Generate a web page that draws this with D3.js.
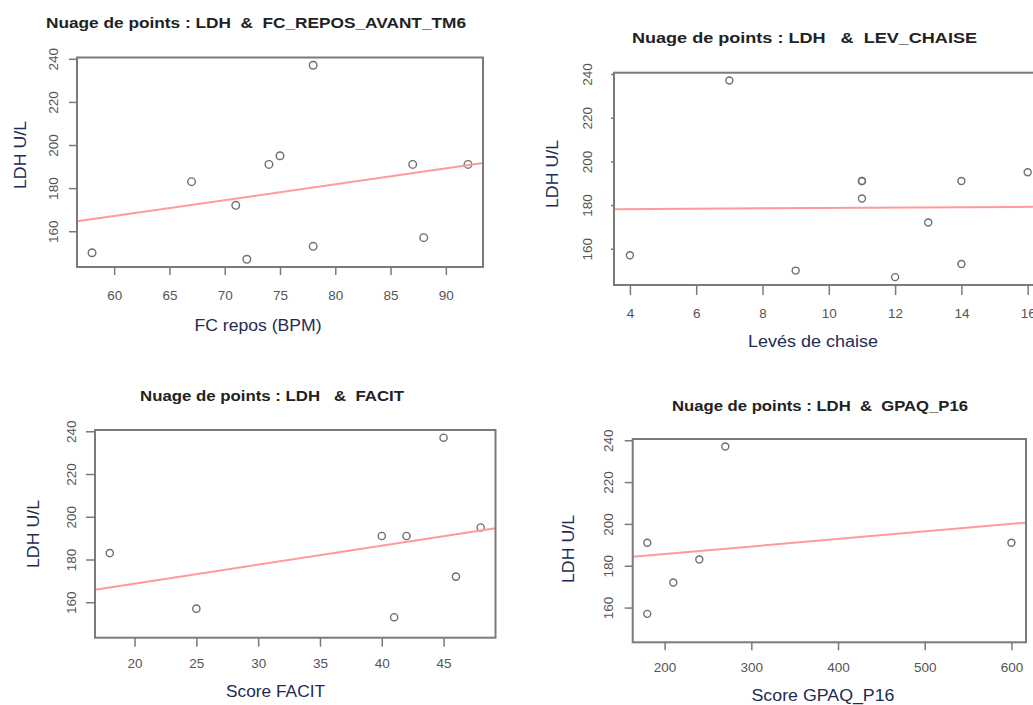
<!DOCTYPE html>
<html>
<head>
<meta charset="utf-8">
<script src="https://cdn.jsdelivr.net/npm/d3@7"></script>
<style>
  html, body { margin: 0; padding: 0; background: #fff; overflow: hidden; }
  svg { display: block; }
  text { white-space: pre; }
</style>
</head>
<body>
<svg id="chart" width="1033" height="705"></svg>
<script>
// ---------- DATA ----------
const ldhAll = [150, 183, 172, 147, 191, 195, 237, 153, 191, 157, 191];

const fcRepos   = [58, 67, 71, 72, 74, 75, 78, 78, 87, 88, 92];
const ldhFc     = [150, 183, 172, 147, 191, 195, 237, 153, 191, 157, 191];

const levChaise = [4, 7, 9, 11, 11, 11, 12, 13, 14, 14, 16];
const ldhLev    = [157, 237, 150, 191, 191, 183, 147, 172, 191, 153, 195];

const facit     = [18, 25, 40, 41, 42, 45, 46, 48];
const ldhFacit  = [183, 157, 191, 153, 191, 237, 172, 195];

const gpaq      = [180, 180, 210, 240, 270, 600];
const ldhGpaq   = [191, 157, 172, 183, 237, 191];

// regression lines: [intercept, slope]
const fitFc    = [122.9, 0.736];
const fitLev   = [177.8, 0.087];
const fitFacit = [150.9, 0.889];
const fitGpaq  = [178.4, 0.036];

// tick labels
const yTicks      = [160, 180, 200, 220, 240];
const xTicksFc    = [60, 65, 70, 75, 80, 85, 90];
const xTicksLev   = [4, 6, 8, 10, 12, 14, 16];
const xTicksFacit = [20, 25, 30, 35, 40, 45];
const xTicksGpaq  = [200, 300, 400, 500, 600];

// texts
const titles = [
  "Nuage de points : LDH  &  FC_REPOS_AVANT_TM6",
  "Nuage de points : LDH   &  LEV_CHAISE",
  "Nuage de points : LDH   &  FACIT",
  "Nuage de points : LDH  &  GPAQ_P16"
];
const xLabels = ["FC repos (BPM)", "Levés de chaise", "Score FACIT", "Score GPAQ_P16"];
const yLabel = "LDH U/L";

// ---------- LAYOUT (pixel geometry per panel) ----------
const layout = [
  { left: 77,  right: 483,  top: 57.5, bottom: 267,
    titleX: 46, titleY: 28, titleW: 420,
    yTickX: 53, xTickY: 295, yLabX: 20, yLabY: 155, xLabX: 258, xLabY: 325, xLabW: 127, tick: 8, r: 3.8 },
  { left: 614, right: 1043.6, top: 72.7, bottom: 285,
    titleX: 632, titleY: 43, titleW: 345,
    yTickX: 587, xTickY: 313, yLabX: 552, yLabY: 174, xLabX: 813, xLabY: 341, xLabW: 130, tick: 10, yTick: 3, r: 3.5 },
  { left: 95,  right: 495.5, top: 430, bottom: 637.7,
    titleX: 140, titleY: 401, titleW: 264,
    yTickX: 71, xTickY: 663, yLabX: 33, yLabY: 534, xLabX: 275.5, xLabY: 691, xLabW: 99, tick: 9, r: 3.6 },
  { left: 632.7, right: 1026, top: 439, bottom: 642.3,
    titleX: 672, titleY: 411, titleW: 296,
    yTickX: 608, xTickY: 667, yLabX: 568, yLabY: 549, xLabX: 823, xLabY: 695, xLabW: 143, tick: 8, r: 3.5 }
];

const panels = [
  { xs: fcRepos,   ys: ldhFc,    fit: fitFc,    xTicks: xTicksFc },
  { xs: levChaise, ys: ldhLev,   fit: fitLev,   xTicks: xTicksLev },
  { xs: facit,     ys: ldhFacit, fit: fitFacit, xTicks: xTicksFacit },
  { xs: gpaq,      ys: ldhGpaq,  fit: fitGpaq,  xTicks: xTicksGpaq }
];

// R-style extended range (4% on each side)
function rRange(vals) {
  const [a, b] = d3.extent(vals);
  const pad = (b - a) * 0.04;
  return [a - pad, b + pad];
}

const svg = d3.select("#chart");
const axisColor = "#7a7a7a";
const tickTextColor = "#555";
const labelColor = "#1e2b52";

panels.forEach((p, i) => {
  const L = layout[i];
  const x = d3.scaleLinear().domain(rRange(p.xs)).range([L.left, L.right]);
  const y = d3.scaleLinear().domain(rRange(ldhAll)).range([L.bottom, L.top]);
  const g = svg.append("g");

  // title
  g.append("text")
    .attr("x", L.titleX).attr("y", L.titleY)
    .attr("font-family", "Liberation Sans, Arial, sans-serif")
    .attr("font-weight", "bold").attr("font-size", 14)
    .attr("fill", "#222")
    .attr("textLength", L.titleW).attr("lengthAdjust", "spacingAndGlyphs")
    .text(titles[i]);

  // x axis
  const xAxis = d3.axisBottom(x).tickValues(p.xTicks).tickSize(L.tick).tickFormat(d3.format("d"));
  const gx = g.append("g").attr("transform", `translate(0,${L.bottom})`).call(xAxis);
  gx.select(".domain").remove();
  gx.selectAll(".tick line").attr("stroke", axisColor).attr("stroke-width", 1.5);
  gx.selectAll(".tick text")
    .attr("y", L.xTickY - L.bottom).attr("dy", "0.35em")
    .attr("font-family", "Liberation Sans, Arial, sans-serif")
    .attr("font-size", 13.5).attr("fill", tickTextColor);

  // y axis (rotated labels like R)
  const yAxis = d3.axisLeft(y).tickValues(yTicks).tickSize(L.yTick || L.tick).tickFormat(d3.format("d"));
  const gy = g.append("g").attr("transform", `translate(${L.left},0)`).call(yAxis);
  gy.select(".domain").remove();
  gy.selectAll(".tick line").attr("stroke", axisColor).attr("stroke-width", 1.5);
  gy.selectAll(".tick text")
    .attr("x", 0).attr("dy", 0).attr("text-anchor", "middle")
    .attr("dominant-baseline", "central")
    .attr("transform", `translate(${L.yTickX - L.left},0) rotate(-90)`)
    .attr("font-family", "Liberation Sans, Arial, sans-serif")
    .attr("font-size", 13.5).attr("fill", tickTextColor);

  // points
  const pts = p.xs.map((v, k) => ({ x: v, y: p.ys[k] }));
  g.append("g").selectAll("circle").data(pts).join("circle")
    .attr("cx", d => x(d.x)).attr("cy", d => y(d.y)).attr("r", L.r)
    .attr("fill", "none").attr("stroke", "#6e6e6e").attr("stroke-width", 1.4);

  // regression line across the plot region
  const [x0, x1] = x.domain();
  const line = d3.line().x(d => x(d)).y(d => y(p.fit[0] + p.fit[1] * d));
  g.append("path").datum([x0, x1]).attr("d", line)
    .attr("fill", "none").attr("stroke", "#ff9a9a").attr("stroke-width", 2);

  // box
  g.append("rect")
    .attr("x", L.left).attr("y", L.top)
    .attr("width", L.right - L.left).attr("height", L.bottom - L.top)
    .attr("fill", "none").attr("stroke", axisColor).attr("stroke-width", 2);

  // axis labels
  g.append("text")
    .attr("x", L.xLabX).attr("y", L.xLabY)
    .attr("text-anchor", "middle").attr("dominant-baseline", "central")
    .attr("font-family", "Liberation Sans, Arial, sans-serif")
    .attr("font-size", 16).attr("fill", labelColor)
    .attr("textLength", L.xLabW).attr("lengthAdjust", "spacingAndGlyphs")
    .text(xLabels[i]);

  g.append("text")
    .attr("transform", `translate(${L.yLabX},${L.yLabY}) rotate(-90)`)
    .attr("text-anchor", "middle").attr("dominant-baseline", "central")
    .attr("font-family", "Liberation Sans, Arial, sans-serif")
    .attr("font-size", 17).attr("fill", labelColor)
    .attr("textLength", 68).attr("lengthAdjust", "spacingAndGlyphs")
    .text(yLabel);
});
</script>
</body>
</html>
